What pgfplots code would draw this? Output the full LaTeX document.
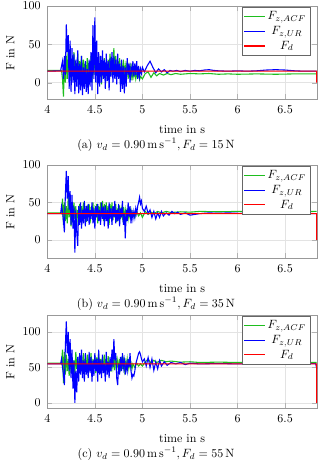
\documentclass[border=0pt]{standalone}
\usepackage{pgfplots}
\pgfplotsset{compat=1.18}
\definecolor{cACF}{RGB}{30,190,30}
\definecolor{cUR}{RGB}{0,0,255}
\definecolor{cFd}{RGB}{255,0,0}
\pgfplotsset{
  forceplot/.style={
    scale only axis, width=224.8pt, height=78pt,
    xmin=4, xmax=6.835,
    xtick={4,4.5,5,5.5,6,6.5},
    xlabel={time in s}, ylabel={F in N},
    xlabel style={yshift=-3pt},
    xticklabel style={yshift=-2pt},
    yticklabel style={xshift=-2pt},
    grid=major, grid style={gray!22},
    axis line style={gray!80}, tick style={gray!60},
    every axis plot/.append style={line width=0.9pt},
    legend style={at={(0.975,0.99)}, anchor=north east, draw=gray!80!black,
                  font=\normalsize, inner sep=1.5pt},
    legend cell align=center,
  },
}
\begin{document}
\begin{tikzpicture}
\useasboundingbox (0,0) rectangle (266.7pt,-384.2pt);

% ---------------- (a) F_d = 15 N
\begin{axis}[forceplot, at={(39.4pt,-5pt)}, anchor=north west,
  ymin=-22, ymax=100, ytick={0,50,100}]
\addplot[draw=cACF] coordinates {
(4.00,16)(4.15,16)(4.16,5)(4.17,-18)(4.18,20)(4.19,0)(4.20,35)(4.21,5)(4.22,45)(4.23,10)(4.24,35)
(4.25,2)(4.26,30)(4.27,8)(4.28,40)(4.29,5)(4.30,25)(4.31,12)(4.32,38)(4.33,6)(4.34,28)(4.35,15)
(4.36,35)(4.37,5)(4.38,30)(4.39,10)(4.40,25)(4.41,8)(4.42,32)(4.43,5)(4.44,28)(4.45,12)(4.46,35)
(4.47,0)(4.48,30)(4.49,10)(4.50,38)(4.51,15)(4.52,30)(4.53,5)(4.54,25)(4.55,10)(4.56,35)(4.57,-2)
(4.58,28)(4.59,8)(4.60,32)(4.61,12)(4.62,25)(4.63,5)(4.64,30)(4.65,15)(4.66,38)(4.67,10)(4.68,32)
(4.69,20)(4.70,45)(4.71,12)(4.72,35)(4.73,8)(4.74,28)(4.75,15)(4.76,32)(4.77,5)(4.78,25)(4.79,10)
(4.80,30)(4.81,8)(4.82,22)(4.83,12)(4.84,28)(4.85,5)(4.86,20)(4.87,10)(4.88,25)(4.89,3)(4.90,18)
(4.91,8)(4.92,15)(4.93,5)(4.94,12)(4.95,7)(4.96,10)(4.97,4)(4.98,8)(5.00,5)(5.03,12)(5.06,14)
(5.09,7)(5.12,13)(5.15,9)(5.18,12)(5.22,10)(5.26,12)(5.30,10.5)(5.35,12)(5.40,11)(5.50,12)
(5.60,11.5)(5.70,12)(5.80,11)(5.90,11.5)(6.00,11)(6.20,11.5)(6.40,11)(6.60,11.5)(6.83,11.5)
};
\addlegendentry{$F_{z,ACF}$}
\addplot[draw=cUR] coordinates {
(4.00,15)(4.14,15.5)(4.15,22)(4.16,28)(4.17,5)(4.18,35)(4.19,10)(4.20,76)(4.21,40)(4.22,62)
(4.23,-8)(4.24,55)(4.25,-12)(4.26,45)(4.27,0)(4.28,38)(4.29,-15)(4.30,30)(4.31,-5)(4.32,42)
(4.33,-14)(4.34,25)(4.35,-10)(4.36,35)(4.37,-16)(4.38,20)(4.39,-8)(4.40,28)(4.41,-12)(4.42,18)
(4.43,-15)(4.44,30)(4.45,-5)(4.46,40)(4.47,-10)(4.48,75)(4.49,5)(4.50,85)(4.51,0)(4.52,55)
(4.53,-15)(4.54,40)(4.55,-5)(4.56,35)(4.57,0)(4.58,42)(4.59,5)(4.60,30)(4.61,-8)(4.62,38)
(4.63,2)(4.64,28)(4.65,-10)(4.66,32)(4.67,8)(4.68,40)(4.69,0)(4.70,35)(4.71,5)(4.72,30)
(4.73,-2)(4.74,38)(4.75,5)(4.76,25)(4.77,-12)(4.78,30)(4.79,-8)(4.80,22)(4.81,-14)(4.82,20)
(4.83,-5)(4.84,32)(4.85,10)(4.86,25)(4.87,0)(4.88,20)(4.89,12)(4.90,28)(4.91,8)(4.92,25)
(4.93,10)(4.94,28)(4.95,5)(4.96,22)(4.97,8)(4.98,18)(4.99,12)(5.00,20)(5.02,14)(5.05,22)
(5.08,28)(5.11,20)(5.14,13)(5.17,18)(5.20,14)(5.23,17)(5.26,13)(5.29,16)(5.32,15)(5.36,16)
(5.40,14.5)(5.45,16)(5.50,15)(5.55,16)(5.60,15.5)(5.65,16.5)(5.70,17)(5.75,16)(5.80,15.5)
(5.90,15)(6.00,15.5)(6.10,15)(6.20,15.5)(6.30,16.5)(6.40,17)(6.50,16.5)(6.60,15.5)(6.70,15)
(6.80,15)(6.83,15)
};
\addlegendentry{$F_{z,UR}$}
\addplot[draw=cFd] coordinates {(4.00,15)(6.83,15)(6.832,0)};
\addlegendentry{$F_d$}
\end{axis}
\node at (130pt,-120.8pt) {(a) $v_d = 0.90\,\mathrm{m\,s^{-1}}, F_d = 15\,\mathrm{N}$};

% ---------------- (b) F_d = 35 N
\begin{axis}[forceplot, at={(39.4pt,-137.5pt)}, anchor=north west,
  ymin=-25, ymax=100, ytick={0,50,100}]
\addplot[draw=cACF] coordinates {
(4.00,36)(4.14,36)(4.15,35)(4.16,55)(4.17,20)(4.18,50)(4.19,25)(4.20,45)(4.21,22)(4.22,58)
(4.23,30)(4.24,48)(4.25,18)(4.26,42)(4.27,25)(4.28,50)(4.29,28)(4.30,45)(4.31,20)(4.32,40)
(4.33,30)(4.34,48)(4.35,25)(4.36,45)(4.37,30)(4.38,50)(4.39,28)(4.40,42)(4.41,24)(4.42,46)
(4.43,30)(4.44,48)(4.45,22)(4.46,44)(4.47,32)(4.48,50)(4.49,26)(4.50,40)(4.51,30)(4.52,48)
(4.53,22)(4.54,45)(4.55,28)(4.56,50)(4.57,30)(4.58,52)(4.59,25)(4.60,48)(4.61,32)(4.62,50)
(4.63,28)(4.64,45)(4.65,20)(4.66,48)(4.67,30)(4.68,50)(4.69,26)(4.70,44)(4.71,30)(4.72,48)
(4.73,24)(4.74,42)(4.75,32)(4.76,46)(4.77,28)(4.78,40)(4.79,30)(4.80,44)(4.81,26)(4.82,40)
(4.83,30)(4.84,42)(4.85,28)(4.86,38)(4.87,30)(4.88,40)(4.89,32)(4.90,36)(4.92,30)(4.94,38)
(4.96,32)(4.98,36)(5.00,30)(5.03,38)(5.06,34)(5.09,37)(5.12,35)(5.16,38)(5.20,36)(5.25,38)
(5.30,36.5)(5.40,37.5)(5.50,37)(5.60,38)(5.80,37.5)(6.00,38)(6.20,37.5)(6.40,38)(6.60,37.5)
(6.83,38)
};
\addlegendentry{$F_{z,ACF}$}
\addplot[draw=cUR] coordinates {
(4.00,35)(4.14,35)(4.15,45)(4.16,38)(4.17,25)(4.18,10)(4.19,60)(4.20,92)(4.21,55)(4.22,85)
(4.23,40)(4.24,65)(4.25,20)(4.26,60)(4.27,15)(4.28,45)(4.29,-17)(4.30,40)(4.31,10)(4.32,-8)
(4.33,45)(4.34,20)(4.35,50)(4.36,15)(4.37,40)(4.38,22)(4.39,52)(4.40,18)(4.41,45)(4.42,25)
(4.43,48)(4.44,20)(4.45,40)(4.46,28)(4.47,50)(4.48,22)(4.49,42)(4.50,15)(4.51,45)(4.52,30)
(4.53,48)(4.54,25)(4.55,40)(4.56,20)(4.57,50)(4.58,28)(4.59,44)(4.60,18)(4.61,46)(4.62,25)
(4.63,40)(4.64,15)(4.65,50)(4.66,28)(4.67,42)(4.68,20)(4.69,45)(4.70,30)(4.71,52)(4.72,22)
(4.73,40)(4.74,25)(4.75,48)(4.76,18)(4.77,42)(4.78,30)(4.79,52)(4.80,20)(4.81,35)(4.82,2)
(4.83,40)(4.84,25)(4.85,50)(4.86,30)(4.87,45)(4.88,22)(4.89,40)(4.90,28)(4.91,38)(4.92,30)
(4.93,42)(4.94,35)(4.95,45)(4.96,50)(4.97,57)(4.98,48)(4.99,52)(5.00,42)(5.02,38)(5.04,45)
(5.06,35)(5.08,40)(5.10,30)(5.12,38)(5.14,28)(5.16,36)(5.18,30)(5.20,38)(5.22,32)(5.25,36)
(5.28,33)(5.31,38)(5.34,35)(5.37,37)(5.40,34)(5.45,36)(5.50,33)(5.55,34)(5.60,35)(5.70,36)
(5.80,35.5)(5.90,36)(6.00,35.5)(6.20,35)(6.40,35.5)(6.60,35)(6.83,35)
};
\addlegendentry{$F_{z,UR}$}
\addplot[draw=cFd] coordinates {(4.00,35)(6.83,35)(6.832,0)};
\addlegendentry{$F_d$}
\end{axis}
\node at (130pt,-253.3pt) {(b) $v_d = 0.90\,\mathrm{m\,s^{-1}}, F_d = 35\,\mathrm{N}$};

% ---------------- (c) F_d = 55 N
\begin{axis}[forceplot, at={(39.4pt,-262.5pt)}, anchor=north west,
  ymin=-8, ymax=124, ytick={0,50,100}]
\addplot[draw=cACF] coordinates {
(4.00,56)(4.14,56)(4.15,55)(4.16,75)(4.17,28)(4.18,72)(4.19,40)(4.20,68)(4.21,45)(4.22,62)
(4.23,38)(4.24,70)(4.25,42)(4.26,65)(4.27,45)(4.28,60)(4.29,40)(4.30,72)(4.31,48)(4.32,62)
(4.33,42)(4.34,68)(4.35,50)(4.36,65)(4.37,40)(4.38,70)(4.39,45)(4.40,62)(4.41,48)(4.42,68)
(4.43,42)(4.44,65)(4.45,50)(4.46,70)(4.47,44)(4.48,62)(4.49,48)(4.50,66)(4.51,42)(4.52,64)
(4.53,50)(4.54,70)(4.55,45)(4.56,62)(4.57,48)(4.58,65)(4.59,42)(4.60,68)(4.61,50)(4.62,62)
(4.63,45)(4.64,66)(4.65,48)(4.66,60)(4.67,44)(4.68,64)(4.69,50)(4.70,62)(4.71,46)(4.72,66)
(4.73,50)(4.74,60)(4.75,45)(4.76,62)(4.77,50)(4.78,64)(4.79,48)(4.80,60)(4.81,46)(4.82,58)
(4.83,50)(4.84,62)(4.85,48)(4.86,58)(4.87,50)(4.88,56)(4.89,48)(4.90,55)(4.92,50)(4.94,56)
(4.96,52)(4.98,55)(5.00,52)(5.03,58)(5.06,62)(5.09,56)(5.12,60)(5.15,57)(5.20,60)(5.25,58)
(5.30,59)(5.40,57.5)(5.50,58)(5.60,57)(5.80,57.5)(6.00,57)(6.20,57.5)(6.40,57)(6.60,57.5)
(6.83,57)
};
\addlegendentry{$F_{z,ACF}$}
\addplot[draw=cUR] coordinates {
(4.00,55)(4.14,55)(4.15,62)(4.16,50)(4.17,40)(4.18,25)(4.19,80)(4.20,115)(4.21,70)(4.22,100)
(4.23,45)(4.24,90)(4.25,35)(4.26,75)(4.27,20)(4.28,60)(4.29,0)(4.30,45)(4.31,15)(4.32,65)
(4.33,30)(4.34,70)(4.35,40)(4.36,75)(4.37,35)(4.38,60)(4.39,30)(4.40,70)(4.41,40)(4.42,55)
(4.43,35)(4.44,72)(4.45,42)(4.46,65)(4.47,30)(4.48,60)(4.49,38)(4.50,70)(4.51,45)(4.52,62)
(4.53,30)(4.54,75)(4.55,40)(4.56,60)(4.57,35)(4.58,68)(4.59,42)(4.60,55)(4.61,30)(4.62,72)
(4.63,40)(4.64,58)(4.65,35)(4.66,65)(4.67,45)(4.68,75)(4.69,50)(4.70,90)(4.71,60)(4.72,70)
(4.73,35)(4.74,25)(4.75,55)(4.76,40)(4.77,65)(4.78,45)(4.79,70)(4.80,50)(4.81,60)(4.82,40)
(4.83,55)(4.84,45)(4.85,62)(4.86,50)(4.87,70)(4.88,45)(4.89,35)(4.90,40)(4.91,38)(4.92,45)
(4.93,55)(4.94,60)(4.95,65)(4.96,70)(4.97,72)(4.98,68)(4.99,62)(5.00,58)(5.02,62)(5.04,52)
(5.06,64)(5.08,50)(5.10,62)(5.12,46)(5.14,58)(5.16,48)(5.18,60)(5.20,52)(5.23,58)(5.26,53)
(5.30,57)(5.35,55)(5.40,57)(5.45,54)(5.50,56)(5.60,55)(5.80,55.5)(6.00,55)(6.20,55.5)
(6.40,55)(6.60,55.5)(6.82,55.5)(6.834,48)
};
\addlegendentry{$F_{z,UR}$}
\addplot[draw=cFd] coordinates {(4.00,55)(6.83,55)(6.832,0)};
\addlegendentry{$F_d$}
\end{axis}
\node at (130pt,-378.3pt) {(c) $v_d = 0.90\,\mathrm{m\,s^{-1}}, F_d = 55\,\mathrm{N}$};
\end{tikzpicture}
\end{document}
